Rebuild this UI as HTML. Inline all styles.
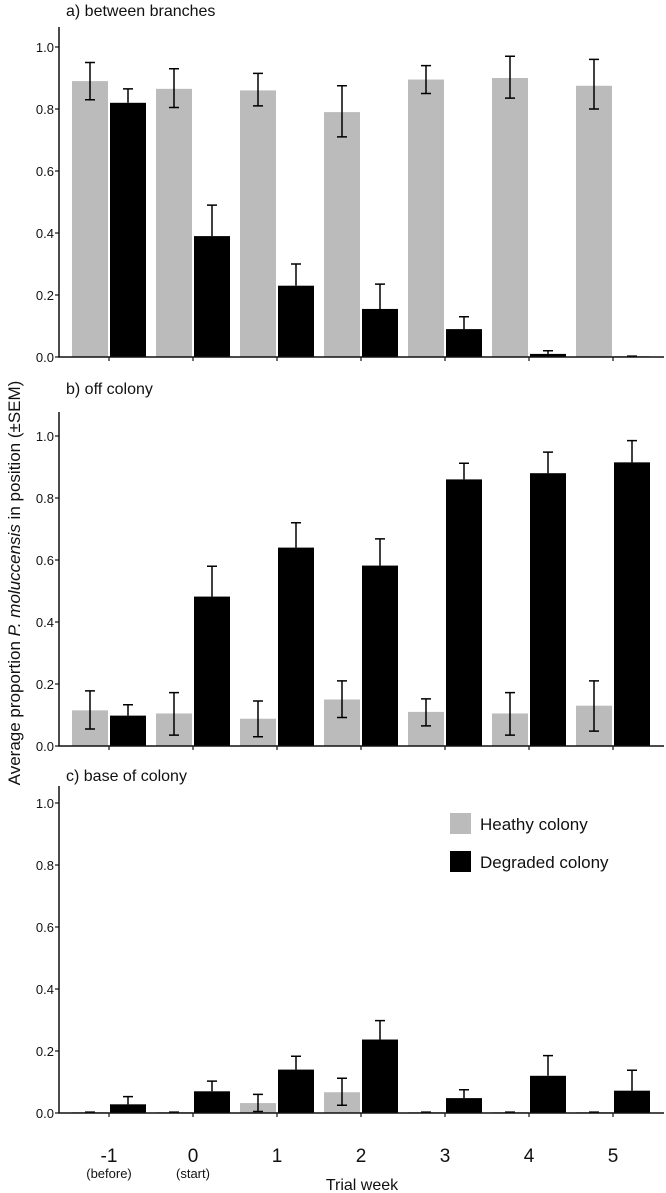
<!DOCTYPE html>
<html><head><meta charset="utf-8"><style>
html,body{margin:0;padding:0;background:#fff;}
svg{display:block;font-family:"Liberation Sans",Arial,sans-serif;}
</style></head><body>
<svg id="chart" width="666" height="1193" viewBox="0 0 666 1193">
<text x="7" y="0" transform="translate(20,590) rotate(-90)" text-anchor="middle" font-size="17" fill="#111">Average proportion  <tspan font-style="italic">P. moluccensis</tspan> in position (±SEM)</text>
<g>
<rect x="450" y="813" width="21" height="21" fill="#bbbbbb"/>
<text x="480" y="830" font-size="17" fill="#111">Heathy colony</text>
<rect x="450" y="851" width="21" height="21" fill="#000"/>
<text x="480" y="868" font-size="17" fill="#111">Degraded colony</text>
</g>
<text x="362" y="1190" text-anchor="middle" font-size="16" fill="#111">Trial week</text>
</svg>
<script>
const weeks = ["-1","0","1","2","3","4","5"];
const subLabels = ["(before)","(start)","","","","",""];
const panelTitles = ["a)  between branches","b) off colony","c) base of colony"];
const yTicks = [0,0.2,0.4,0.6,0.8,1.0];
const aHealthy = [0.89,0.865,0.86,0.79,0.895,0.90,0.875];
const aHealthyLo = [0.83,0.805,0.81,0.71,0.85,0.835,0.80];
const aHealthyHi = [0.95,0.93,0.915,0.875,0.94,0.97,0.96];
const aDegraded = [0.82,0.39,0.23,0.155,0.09,0.01,0.002];
const aDegradedHi = [0.865,0.49,0.30,0.235,0.13,0.02,0.003];
const bHealthy = [0.115,0.105,0.088,0.15,0.11,0.105,0.13];
const bHealthyLo = [0.055,0.035,0.03,0.092,0.065,0.035,0.048];
const bHealthyHi = [0.178,0.172,0.145,0.21,0.152,0.172,0.21];
const bDegraded = [0.098,0.482,0.64,0.582,0.86,0.88,0.915];
const bDegradedHi = [0.133,0.58,0.72,0.668,0.912,0.948,0.985];
const cHealthy = [0.003,0.003,0.032,0.067,0.003,0.003,0.003];
const cHealthyLo = [0.003,0.003,0.005,0.025,0.003,0.003,0.003];
const cHealthyHi = [0.003,0.003,0.06,0.112,0.003,0.003,0.003];
const cDegraded = [0.028,0.07,0.14,0.237,0.048,0.12,0.072];
const cDegradedHi = [0.053,0.103,0.183,0.298,0.075,0.185,0.138];

const NS="http://www.w3.org/2000/svg";
const svg=document.getElementById('chart');
function mk(tag,attrs,parent){const e=document.createElementNS(NS,tag);for(const k in attrs)e.setAttribute(k,attrs[k]);(parent||svg).appendChild(e);return e;}
const xAxisL=59, xAxisR=664, firstTick=109, groupStep=84, barW=36;
function xTick(i){return firstTick+i*groupStep;}
const panels=[
 {y0:357,top:27,titleY:16,h:aHealthy,hl:aHealthyLo,hh:aHealthyHi,d:aDegraded,dh:aDegradedHi},
 {y0:746,top:412,titleY:394,h:bHealthy,hl:bHealthyLo,hh:bHealthyHi,d:bDegraded,dh:bDegradedHi},
 {y0:1113,top:786,titleY:781,h:cHealthy,hl:cHealthyLo,hh:cHealthyHi,d:cDegraded,dh:cDegradedHi}
];
const unit=310;
panels.forEach((p,pi)=>{
  const g=mk('g',{});
  
  
  const yS=v=>p.y0-v*unit;
  const t=mk('text',{x:66,y:p.titleY,'font-size':16,fill:'#111'},g);
  t.textContent=panelTitles[pi];
  
  
  p.h.forEach((v,i)=>{
    const r=mk('rect',{x:xTick(i)-barW-1,y:yS(v),width:barW,height:v*unit,fill:'#bbbbbb'},g);
    
    
    const cx=xTick(i)-1-barW/2;
    const e=mk('path',{d:`M${cx},${yS(p.hl[i])}V${yS(p.hh[i])}M${cx-5},${yS(p.hl[i])}h10M${cx-5},${yS(p.hh[i])}h10`,stroke:'#000','stroke-width':1.5,fill:'none'},g);
    
    
  });
  p.d.forEach((v,i)=>{
    const r=mk('rect',{x:xTick(i)+1,y:yS(v),width:barW,height:v*unit,fill:'#000'},g);
    
    
    const cx=xTick(i)+1+barW/2;
    const e=mk('path',{d:`M${cx},${yS(v)}V${yS(p.dh[i])}M${cx-5},${yS(p.dh[i])}h10`,stroke:'#000','stroke-width':1.5,fill:'none'},g);
    
    
  });
  const ax=mk('path',{d:`M${xAxisL},${p.top}V${p.y0}H${xAxisR}`,stroke:'#111','stroke-width':1.5,fill:'none'},g);
  
  
  yTicks.forEach(v=>{
    mk('line',{x1:xAxisL-4,x2:xAxisL,y1:yS(v),y2:yS(v),stroke:'#111','stroke-width':1.2},g);
    const l=mk('text',{x:xAxisL-5,y:yS(v)+5,'text-anchor':'end','font-size':13,fill:'#111'},g);
    l.textContent=v.toFixed(1);
    
    
  });
  weeks.forEach((w,i)=>{mk('line',{x1:xTick(i),x2:xTick(i),y1:p.y0,y2:p.y0+4,stroke:'#111','stroke-width':1.2},g);});
});
weeks.forEach((w,i)=>{
  const l=mk('text',{x:xTick(i),y:1162,'text-anchor':'middle','font-size':19,fill:'#111'});
  l.textContent=w;
  
  
  if(subLabels[i]){
    const s=mk('text',{x:xTick(i),y:1178,'text-anchor':'middle','font-size':13,fill:'#111'});
    s.textContent=subLabels[i];
    
    
  }
});
</script>
</body></html>
